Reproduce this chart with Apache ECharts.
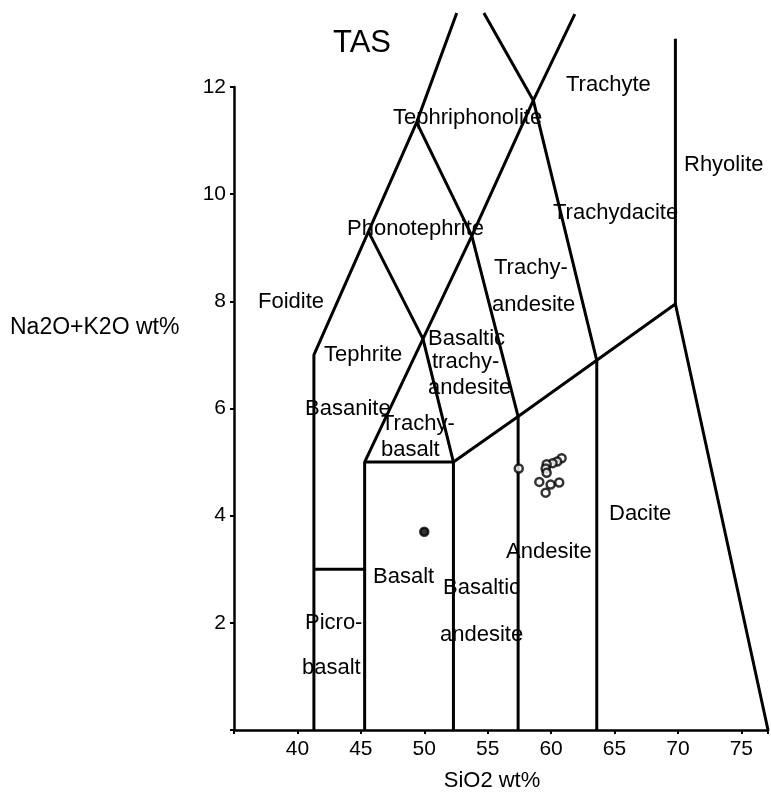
<!DOCTYPE html>
<html>
<head>
<meta charset="utf-8">
<script src="https://cdn.jsdelivr.net/npm/echarts@6/dist/echarts.min.js"></script>
<style>
html,body{margin:0;padding:0;background:#fff;}
#chart{width:771px;height:803px;}
</style>
</head>
<body>
<div id="chart"></div>
<script>
// ---- TAS field boundaries (SiO2, Na2O+K2O) ----
const foiditeBoundary = [[41.3,0],[41.3,7],[45.6,9.3],[49.4,11.34],[52.56,13.38]];
const picrobasaltTop = [[41.3,3],[45.3,3]];
const basaltBox = [[45.3,0],[45.3,5],[52.3,5],[52.3,0]];
const trachyBoundary = [[45.3,5],[49.9,7.3],[53.75,9.22],[58.6,11.75],[61.87,13.36]];
const tephriteTop = [[45.6,9.3],[49.9,7.3],[52.3,5]];
const phonotephriteRight = [[49.4,11.34],[53.75,9.22],[57.4,5.85]];
const subalkalineTop = [[52.3,5],[57.4,5.85],[63.6,6.9],[69.8,7.95],[77.1,0]];
const andesiteLeft = [[57.4,0],[57.4,5.85]];
const daciteLeft = [[63.6,0],[63.6,6.9]];
const trachyteBoundary = [[54.7,13.38],[58.6,11.75],[63.6,6.9]];
const rhyoliteBoundary = [[69.8,7.95],[69.8,12.9]];

// ---- samples ----
const sampleSiO2   = [50.0, 57.45, 60.83, 60.48, 60.12, 59.65, 59.57, 59.65, 59.07, 59.96, 60.64, 59.57];
const sampleAlkali = [3.7,  4.88,  5.07,  5.01,  4.98,  4.96,  4.88,  4.80,  4.63,  4.58,  4.62,  4.43];

// ---- axis ticks ----
const xTickLabels = [40,45,50,55,60,65,70,75];
const yTickLabels = [2,4,6,8,10,12];

// ---- field names ----
const fieldLabels = [
  {t:'Trachyte', x:566, y:85},
  {t:'Tephriphonolite', x:393, y:118},
  {t:'Rhyolite', x:684, y:165},
  {t:'Trachydacite', x:553, y:213},
  {t:'Phonotephrite', x:347, y:229},
  {t:'Trachy-', x:494, y:268},
  {t:'Foidite', x:258, y:302},
  {t:'andesite', x:492, y:305},
  {t:'Basaltic', x:428, y:339},
  {t:'Tephrite', x:324, y:355},
  {t:'trachy-', x:432, y:362},
  {t:'andesite', x:428, y:388},
  {t:'Basanite', x:305, y:409},
  {t:'Trachy-', x:381, y:424},
  {t:'basalt', x:381, y:450},
  {t:'Dacite', x:609, y:514},
  {t:'Andesite', x:506, y:552},
  {t:'Basalt', x:373, y:577},
  {t:'Basaltic', x:443, y:588},
  {t:'Picro-', x:305, y:623},
  {t:'andesite', x:440, y:635},
  {t:'basalt', x:302, y:668}
];

const FONT = '"Liberation Sans", Arial, sans-serif';
const chart = echarts.init(document.getElementById('chart'), null, {renderer:'canvas'});

function boundary(name, pts){
  return {
    name: name, type:'line', data: pts, symbol:'none', clip:false, silent:true,
    lineStyle:{color:'#000', width:3}, z:3, animation:false
  };
}

const samples = sampleSiO2.map((x,i)=>{
  const item = {value:[x, sampleAlkali[i]]};
  if (i===0) item.itemStyle = {color:'#000', borderColor:'#000'};
  return item;
});

const graphics = fieldLabels.map(l=>({
  type:'text', z:10,
  style:{text:l.t, x:l.x, y:l.y, fill:'#000', font:'22px '+FONT,
         textVerticalAlign:'middle', verticalAlign:'middle'}
}));
graphics.push({type:'text', z:10, style:{text:'TAS', x:333, y:43, fill:'#000', font:'31px '+FONT, textVerticalAlign:'middle', verticalAlign:'middle'}});
graphics.push({type:'text', z:10, style:{text:'Na2O+K2O wt%', x:10, y:328, fill:'#000', font:'23px '+FONT, textVerticalAlign:'middle', verticalAlign:'middle'}});
graphics.push({type:'text', z:10, style:{text:'SiO2 wt%', x:492, y:781, fill:'#000', font:'22px '+FONT, textAlign:'center', align:'center', textVerticalAlign:'middle', verticalAlign:'middle'}});

chart.setOption({
  animation:false,
  backgroundColor:'#fff',
  grid:{left:234, right:3, top:87, bottom:73, containLabel:false},
  xAxis:{
    type:'value', min:35, max:77.1, interval:5,
    axisLine:{show:true, lineStyle:{color:'#000', width:2.5}},
    axisTick:{show:true, length:4, lineStyle:{color:'#000', width:2}},
    splitLine:{show:false},
    axisLabel:{color:'#000', fontSize:21, fontFamily:FONT, margin:9,
      formatter:v=> xTickLabels.indexOf(Math.round(v))>=0 && Math.abs(v-Math.round(v))<1e-6 ? String(Math.round(v)) : ''}
  },
  yAxis:{
    type:'value', min:0, max:12, interval:2,
    axisLine:{show:true, lineStyle:{color:'#000', width:2.5}},
    axisTick:{show:true, length:4, lineStyle:{color:'#000', width:2}},
    splitLine:{show:false},
    axisLabel:{color:'#000', fontSize:21, fontFamily:FONT, margin:8,
      formatter:v=> yTickLabels.indexOf(v)>=0 ? String(v) : ''}
  },
  graphic: graphics,
  series:[
    boundary('foidite', foiditeBoundary),
    boundary('picrobasalt', picrobasaltTop),
    boundary('basalt', basaltBox),
    boundary('trachy', trachyBoundary),
    boundary('tephrite', tephriteTop),
    boundary('phonotephrite', phonotephriteRight),
    boundary('subalkaline', subalkalineTop),
    boundary('andesite', andesiteLeft),
    boundary('dacite', daciteLeft),
    boundary('trachyte', trachyteBoundary),
    boundary('rhyolite', rhyoliteBoundary),
    {
      name:'samples', type:'scatter', data:samples, symbol:'circle', symbolSize:8,
      itemStyle:{color:'#fff', borderColor:'#000', borderWidth:2.5}, z:5, animation:false
    }
  ]
});
</script>
</body>
</html>
